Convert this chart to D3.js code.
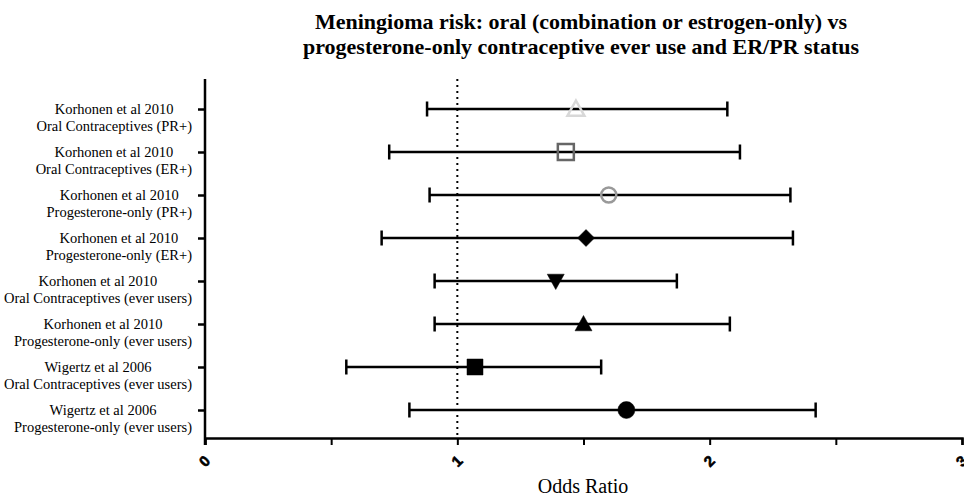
<!DOCTYPE html>
<html><head><meta charset="utf-8">
<script src="https://cdn.jsdelivr.net/npm/d3@7"></script>
<style>body{margin:0;background:#fff}svg{display:block}</style>
</head><body>
<script>
const studies = ["Korhonen et al 2010","Korhonen et al 2010","Korhonen et al 2010","Korhonen et al 2010","Korhonen et al 2010","Korhonen et al 2010","Wigertz et al 2006","Wigertz et al 2006"];
const groups = ["Oral Contraceptives (PR+)","Oral Contraceptives (ER+)","Progesterone-only (PR+)","Progesterone-only (ER+)","Oral Contraceptives (ever users)","Progesterone-only (ever users)","Oral Contraceptives (ever users)","Progesterone-only (ever users)"];
const oddsRatio = [1.47, 1.43, 1.60, 1.51, 1.39, 1.50, 1.07, 1.67];
const lowerCI   = [0.88, 0.73, 0.89, 0.70, 0.91, 0.91, 0.56, 0.81];
const upperCI   = [2.07, 2.12, 2.32, 2.33, 1.87, 2.08, 1.57, 2.42];
const markerShapes = ["triangle","square","circle","diamond","triangleDown","triangle","square","circle"];
const markerFill   = ["none","none","none","#000","#000","#000","#000","#000"];
const markerStroke = ["#d8d8d8","#666","#999","#000","#000","#000","#000","#000"];
const xTicks = [0, 0.5, 1, 1.5, 2, 2.5, 3];
const xTickLabels = ["0","","1","","2","","3"];
const titleLines = ["Meningioma risk: oral (combination or estrogen-only) vs","progesterone-only contraceptive ever use and ER/PR status"];
const xTitle = "Odds Ratio";

const W = 964, H = 497;
const svg = d3.select("body").append("svg").attr("width", W).attr("height", H);
const x = d3.scaleLinear().domain([0, 3]).range([205, 962]);
const idx = d3.range(studies.length);
const y = d3.scalePoint().domain(idx).range([109, 410]);
const yTop = 79, yBot = 438;

// title
svg.append("g").selectAll("text").data(titleLines).join("text")
  .attr("x", 581).attr("y", (d, i) => 29 + i * 24.5)
  .attr("text-anchor", "middle")
  .style("font-family", "Liberation Serif, Times New Roman, serif")
  .style("font-weight", "bold").style("font-size", "22px")
  .text(d => d);

// reference line at 1
svg.append("line").attr("x1", x(1)).attr("x2", x(1)).attr("y1", yTop).attr("y2", yBot)
  .attr("stroke", "#000").attr("stroke-width", 2).attr("stroke-dasharray", "2,4");

// x axis
const xAxis = d3.axisBottom(x).tickValues(xTicks).tickSize(7).tickFormat((d, i) => xTickLabels[i]);
const gx = svg.append("g").attr("transform", `translate(0,${yBot})`).call(xAxis);
gx.select(".domain").attr("stroke", "#000").attr("stroke-width", 2.5);
gx.selectAll(".tick line").attr("stroke", "#000").attr("stroke-width", 2);
gx.selectAll(".tick text")
  .attr("y", 0).attr("dy", 0)
  .attr("text-anchor", "middle")
  .attr("transform", "translate(0,24) rotate(-45)")
  .attr("dominant-baseline", "middle")
  .style("font-family", "Liberation Sans, Arial, sans-serif")
  .style("font-weight", "bold").style("font-size", "15px").attr("fill", "#000")
  .attr("stroke", "#000").attr("stroke-width", 0.6);

svg.append("text").attr("x", 583).attr("y", 493).attr("text-anchor", "middle")
  .style("font-family", "Liberation Serif, Times New Roman, serif").style("font-size", "20px")
  .text(xTitle);

// y axis
const yAxis = d3.axisLeft(y).tickSize(7).tickFormat("");
const gy = svg.append("g").attr("transform", `translate(${x(0)},0)`).call(yAxis);
gy.select(".domain").remove();
gy.append("line").attr("x1", 0).attr("x2", 0).attr("y1", yTop).attr("y2", yBot + 7)
  .attr("stroke", "#000").attr("stroke-width", 2.5);
gy.selectAll(".tick line").attr("stroke", "#000").attr("stroke-width", 2.5);

// y labels: two-line centred blocks, right edge at 192
const lab = svg.append("g").style("font-family", "Liberation Serif, Times New Roman, serif").style("font-size", "14.5px");
idx.forEach(i => {
  const g = lab.append("g");
  const t2 = g.append("text").attr("y", y(i) + 22).text(groups[i]);
  const t1 = g.append("text").attr("y", y(i) + 5).text(studies[i]);
  const w = Math.max(t1.node().getComputedTextLength(), t2.node().getComputedTextLength());
  const cx = 192 - w / 2;
  t1.attr("x", cx).attr("text-anchor", "middle");
  t2.attr("x", cx).attr("text-anchor", "middle");
});

// error bars
const eb = svg.append("g").attr("stroke", "#000").attr("stroke-width", 2.5);
eb.selectAll(".ci").data(idx).join("line")
  .attr("x1", i => x(lowerCI[i])).attr("x2", i => x(upperCI[i]))
  .attr("y1", i => y(i)).attr("y2", i => y(i));
eb.selectAll(".capL").data(idx).join("line").attr("class", "capL")
  .attr("x1", i => x(lowerCI[i])).attr("x2", i => x(lowerCI[i]))
  .attr("y1", i => y(i) - 7.5).attr("y2", i => y(i) + 7.5);
eb.selectAll(".capU").data(idx).join("line").attr("class", "capU")
  .attr("x1", i => x(upperCI[i])).attr("x2", i => x(upperCI[i]))
  .attr("y1", i => y(i) - 7.5).attr("y2", i => y(i) + 7.5);

// markers
function markerPath(shape) {
  const s = 8.5;
  switch (shape) {
    case "triangle": return `M0,${-s}L${s},${s * 0.8}L${-s},${s * 0.8}Z`;
    case "triangleDown": return `M0,${s}L${s},${-s * 0.8}L${-s},${-s * 0.8}Z`;
    case "square": return `M${-s + 0.5},${-s + 0.5}H${s - 0.5}V${s - 0.5}H${-s + 0.5}Z`;
    case "diamond": return `M0,${-s}L${s},0L0,${s}L${-s},0Z`;
    default: return null;
  }
}
const mk = svg.append("g");
idx.forEach(i => {
  const open = markerFill[i] === "none";
  const cx = x(oddsRatio[i]), cy = y(i);
  if (markerShapes[i] === "circle") {
    mk.append("circle").attr("cx", cx).attr("cy", cy).attr("r", open ? 7.5 : 8.5)
      .attr("fill", open ? "none" : markerFill[i]).attr("stroke", markerStroke[i]).attr("stroke-width", open ? 2.5 : 0.5);
  } else {
    mk.append("path").attr("d", markerPath(markerShapes[i]))
      .attr("transform", `translate(${cx},${cy})`)
      .attr("fill", open ? "none" : markerFill[i]).attr("stroke", markerStroke[i])
      .attr("stroke-width", open ? 2.5 : 0.5).attr("stroke-linejoin", "miter");
  }
});
</script>
</body></html>
